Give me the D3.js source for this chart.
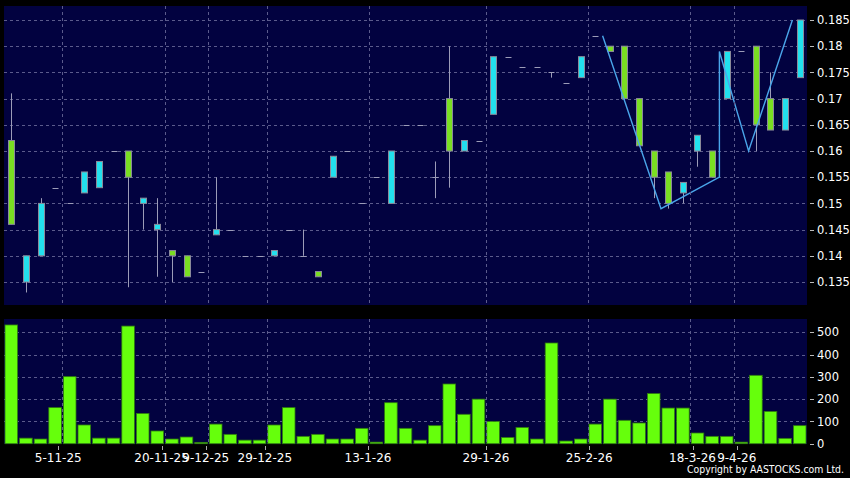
<!DOCTYPE html>
<html>
<head>
<meta charset="utf-8">
<script src="https://cdn.jsdelivr.net/npm/d3@7"></script>
<style>
  html, body { margin: 0; padding: 0; background: #000; }
  svg { display: block; }
  text { font-family: "DejaVu Sans", sans-serif; fill: #ffffff; }
</style>
</head>
<body>
<svg id="chart" width="850" height="478"></svg>
<script>
// ---- Data ----
const openP  = [0.162,0.135,0.140,0.153,0.150,0.152,0.153,0.160,0.160,0.150,0.145,0.141,0.140,0.137,0.144,0.145,0.140,0.140,0.140,0.145,0.140,0.137,0.155,0.160,0.150,0.155,0.150,0.165,0.165,0.155,0.170,0.160,0.162,0.167,0.178,0.176,0.176,0.175,0.173,0.174,0.182,0.180,0.180,0.170,0.160,0.156,0.152,0.160,0.160,0.170,0.179,0.180,0.170,0.164,0.174];
const highP  = [0.171,0.140,0.151,0.153,0.150,0.156,0.158,0.160,0.160,0.151,0.151,0.141,0.140,0.137,0.155,0.145,0.140,0.140,0.141,0.145,0.145,0.137,0.159,0.160,0.150,0.155,0.160,0.165,0.165,0.158,0.180,0.162,0.162,0.178,0.178,0.176,0.176,0.175,0.173,0.178,0.182,0.180,0.180,0.170,0.160,0.156,0.154,0.163,0.160,0.179,0.179,0.180,0.175,0.170,0.185];
const lowP   = [0.146,0.133,0.140,0.153,0.150,0.152,0.153,0.160,0.134,0.145,0.136,0.135,0.136,0.137,0.144,0.145,0.140,0.140,0.140,0.145,0.140,0.136,0.155,0.160,0.150,0.155,0.150,0.165,0.165,0.151,0.153,0.160,0.162,0.167,0.178,0.176,0.176,0.174,0.173,0.174,0.182,0.179,0.170,0.161,0.151,0.149,0.150,0.157,0.155,0.170,0.179,0.160,0.164,0.164,0.174];
const closeP = [0.146,0.140,0.150,0.153,0.150,0.156,0.158,0.160,0.155,0.151,0.146,0.140,0.136,0.137,0.145,0.145,0.140,0.140,0.141,0.145,0.140,0.136,0.159,0.160,0.150,0.155,0.160,0.165,0.165,0.155,0.160,0.162,0.162,0.178,0.178,0.176,0.176,0.175,0.173,0.178,0.182,0.179,0.170,0.161,0.155,0.150,0.154,0.163,0.155,0.179,0.179,0.165,0.164,0.170,0.185];
const volume = [533,25,21,162,301,84,25,25,528,136,57,21,30,6,88,42,16,16,84,162,33,42,21,21,69,7,184,69,16,81,268,132,200,100,28,73,21,452,12,21,88,200,105,93,225,160,160,48,33,33,7,307,145,24,81];

// pattern line: [candle index (band start), price]
const patIndex = [41,45,49,49,51,54];
const patPrice = [0.182,0.149,0.155,0.179,0.160,0.185];

// axis ticks
const priceTicks = [0.135,0.14,0.145,0.15,0.155,0.16,0.165,0.17,0.175,0.18,0.185];
const volTicks = [0,100,200,300,400,500];
const dateTickIndex = [4,11,14,18,25,33,40,47,50];
const dateTickLabels = ["5-11-25","20-11-25","9-12-25","29-12-25","13-1-26","29-1-26","25-2-26","18-3-26","9-4-26"];

// ---- Layout ----
const svg = d3.select("#chart");
const W = 850, H = 478;
const P = {left: 4, right: 807, mainTop: 6, mainBottom: 305, volTop: 319, volBottom: 444};

svg.append("rect").attr("width", W).attr("height", H).attr("fill", "#000");

const idx = d3.range(volume.length);
const x = d3.scaleBand().domain(idx).range([P.left, P.right]);
const xAxisScale = d3.scaleBand().domain(idx).range([-0.7, 810.5]);
const y = d3.scaleLinear().domain([0.135, 0.185]).range([282, 20]);
const yv = d3.scaleLinear().domain([0, 500]).range([443.7, 332.3]);

// panels
svg.append("rect").attr("x", P.left).attr("y", P.mainTop).attr("width", P.right - P.left).attr("height", P.mainBottom - P.mainTop).attr("fill", "#020240");
svg.append("rect").attr("x", P.left).attr("y", P.volTop).attr("width", P.right - P.left).attr("height", P.volBottom - P.volTop).attr("fill", "#020240");

const gridColor = "#5b5b8c";
const main = svg.append("g");
const vol = svg.append("g");

// horizontal grid lines
main.selectAll("line.hg").data(priceTicks).join("line")
  .attr("x1", P.left).attr("x2", P.right)
  .attr("y1", d => Math.round(y(d)) + 0.5).attr("y2", d => Math.round(y(d)) + 0.5)
  .attr("stroke", gridColor).attr("stroke-width", 1).attr("stroke-dasharray", "3,3");
vol.selectAll("line.hg").data(volTicks.filter(d => d > 0)).join("line")
  .attr("x1", P.left).attr("x2", P.right)
  .attr("y1", d => Math.round(yv(d)) + 0.5).attr("y2", d => Math.round(yv(d)) + 0.5)
  .attr("stroke", gridColor).attr("stroke-width", 1).attr("stroke-dasharray", "3,3");

// vertical grid lines
[[P.mainTop, P.mainBottom],[P.volTop, P.volBottom]].forEach(([t,b]) => {
  svg.append("g").selectAll("line").data(dateTickIndex).join("line")
    .attr("x1", d => Math.round(x(d)) + 0.5).attr("x2", d => Math.round(x(d)) + 0.5)
    .attr("y1", t).attr("y2", b)
    .attr("stroke", gridColor).attr("stroke-width", 1).attr("stroke-dasharray", "3,3");
});

// ---- Candles ----
const candles = idx.map(i => ({i, o: openP[i], h: highP[i], l: lowP[i], c: closeP[i]}));
const bodyW = 5;
const wickColor = "#9c9cb8";
const cx = i => Math.round(x(i) + x.bandwidth() / 2) + 0.5;

main.selectAll("line.wick").data(candles.filter(d => d.h !== d.l)).join("line")
  .attr("x1", d => cx(d.i)).attr("x2", d => cx(d.i))
  .attr("y1", d => y(d.h)).attr("y2", d => y(d.l))
  .attr("stroke", wickColor).attr("stroke-width", 1);

// doji ticks
main.selectAll("line.doji").data(candles.filter(d => d.o === d.c)).join("line")
  .attr("x1", d => cx(d.i) - 3).attr("x2", d => cx(d.i) + 3)
  .attr("y1", d => Math.round(y(d.o)) + 0.5).attr("y2", d => Math.round(y(d.o)) + 0.5)
  .attr("stroke", wickColor).attr("stroke-width", 1);

main.selectAll("rect.body").data(candles.filter(d => d.o !== d.c)).join("rect")
  .attr("x", d => cx(d.i) - bodyW / 2 - 0.5)
  .attr("y", d => y(Math.max(d.o, d.c)))
  .attr("width", bodyW + 1)
  .attr("height", d => Math.max(1, Math.abs(y(d.o) - y(d.c))))
  .attr("fill", d => d.c > d.o ? "#22e0ee" : "#7ade22")
  .attr("stroke", "#8a8a9a").attr("stroke-width", 1);

// pattern line
const patData = patIndex.map((d, k) => [x(d), y(patPrice[k])]);
main.append("path").datum(patData)
  .attr("d", d3.line())
  .attr("fill", "none").attr("stroke", "#4aa6ea").attr("stroke-width", 1.4);

// ---- Volume bars ----
const vw = 12.6;
vol.selectAll("rect.v").data(idx).join("rect")
  .attr("x", i => x(i) + (x.bandwidth() - vw) / 2)
  .attr("y", i => yv(volume[i]))
  .attr("width", vw)
  .attr("height", i => yv(0) - yv(volume[i]))
  .attr("fill", "#66ff0c").attr("stroke", "#2f7a10").attr("stroke-width", 0.8);

// ---- Right axes ----
const axG = svg.append("g");
axG.selectAll("line.pt").data(priceTicks).join("line")
  .attr("x1", 810).attr("x2", 814)
  .attr("y1", d => Math.round(y(d)) + 0.5).attr("y2", d => Math.round(y(d)) + 0.5)
  .attr("stroke", "#bbbbbb");
axG.selectAll("text.pt").data(priceTicks).join("text")
  .attr("x", 817).attr("y", d => y(d)).attr("dy", "0.36em")
  .attr("font-size", 11.5)
  .text(d => d3.format("")(+d.toFixed(3)));

axG.selectAll("line.vt").data(volTicks).join("line")
  .attr("x1", 810).attr("x2", 814)
  .attr("y1", d => Math.round(yv(d)) + 0.5).attr("y2", d => Math.round(yv(d)) + 0.5)
  .attr("stroke", "#bbbbbb");
axG.selectAll("text.vt").data(volTicks).join("text")
  .attr("x", 817).attr("y", d => yv(d)).attr("dy", "0.36em")
  .attr("font-size", 11.5)
  .text(d => d);

// ---- Bottom date axis ----
const xg = svg.append("g");
xg.selectAll("line.dt").data(dateTickIndex).join("line")
  .attr("x1", d => Math.round(xAxisScale(d)) + 0.5).attr("x2", d => Math.round(xAxisScale(d)) + 0.5)
  .attr("y1", 446).attr("y2", 450)
  .attr("stroke", "#aaaaaa");
xg.selectAll("text.dt").data(dateTickIndex).join("text")
  .attr("x", d => xAxisScale(d)).attr("y", 462)
  .attr("text-anchor", "middle")
  .attr("font-size", 12)
  .text((d, k) => dateTickLabels[k]);

// copyright
svg.append("text").attr("x", 687).attr("y", 473)
  .attr("font-size", 10)
  .attr("textLength", 157).attr("lengthAdjust", "spacingAndGlyphs")
  .text("Copyright by AASTOCKS.com Ltd.");
</script>
</body>
</html>
